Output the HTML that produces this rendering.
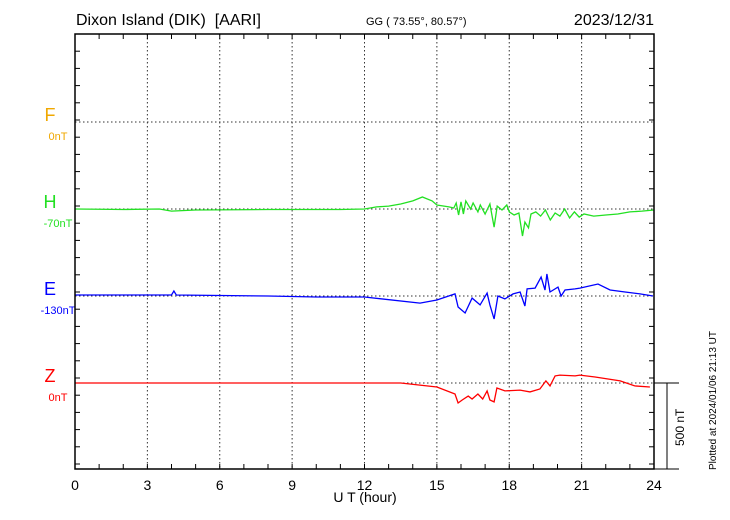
<!DOCTYPE html>
<html><head><meta charset="utf-8"><style>
html,body{margin:0;padding:0;background:#fff;}
svg{display:block;font-family:"Liberation Sans",sans-serif;}
</style></head><body>
<svg id="chart" width="730" height="520" viewBox="0 0 730 520" xmlns="http://www.w3.org/2000/svg">
<text x="76" y="25" font-size="16">Dixon Island (DIK)&#160; [AARI]</text>
<text x="366" y="25" font-size="11">GG ( 73.55°,  80.57°)</text>
<text x="654" y="25" font-size="16" text-anchor="end">2023/12/31</text>
<text x="365" y="502" font-size="14" text-anchor="middle">U T (hour)</text>
<text x="0" y="0" font-size="10" transform="translate(716,470) rotate(-90)">Plotted at 2024/01/06 21:13 UT</text>
<text x="0" y="0" font-size="12" transform="translate(684,446) rotate(-90)">500 nT</text>
<g id="grid"></g><g id="series"></g><g id="axes"></g>
</svg>
<script>
const hours=[0,3,6,9,12,15,18,21,24];
const hT=[0,2,3.5,4,5,8,11,12,12.5,13,13.5,14,14.4,14.8,15,15.3,15.5,15.7,15.8,15.9,16.0,16.1,16.2,16.4,16.5,16.7,16.8,17.0,17.2,17.37,17.5,17.7,17.9,18.0,18.2,18.4,18.55,18.65,18.8,18.9,19.1,19.3,19.5,19.7,19.9,20.1,20.3,20.5,20.7,20.9,21.1,21.5,22,22.5,23,23.5,24];
const hV=[0,-3,0,-12,-6,-3,-3,0,12,17,29,47,70,47,23,17,12,6,35,-35,41,-29,47,0,35,-17,23,-29,29,-105,17,-6,23,-17,-35,-23,-157,-76,-110,-29,-17,-41,-6,-64,-23,-41,0,-52,-17,-47,-29,-41,-35,-29,-17,-12,-6];
const eT=[0,4.0,4.1,4.2,8,10,12,14.3,15,15.75,15.88,16.17,16.46,16.79,17.08,17.2,17.37,17.53,17.82,18.16,18.45,18.65,18.74,19.07,19.32,19.48,19.56,19.69,20.02,20.15,20.31,20.73,20.93,21.68,22.18,22.8,23.42,23.96];
const eV=[6,6,29,6,0,-6,-6,-41,-23,12,-64,-99,-12,-52,17,-52,-134,0,-17,12,23,-58,41,46,110,35,128,23,52,0,35,41,46,70,35,23,12,0];
const zT=[0,12,13.5,15,15.75,15.88,16.05,16.3,16.46,16.7,16.9,17.08,17.2,17.37,17.49,17.82,18.45,18.86,19.27,19.52,19.69,19.9,20.1,20.73,20.93,21.56,22.6,23.2,23.83];
const zV=[0,0,0,-23,-64,-116,-99,-76,-93,-64,-93,-46,-99,-110,-29,-46,-41,-52,-35,12,-17,41,46,41,46,35,12,-17,-23];
const comps=["F","H","E","Z"];
const baseLabels=["0nT","-70nT","-130nT","0nT"];
const colors=["#f0a800","#22e022","#0000ff","#ff0000"];
const X0=75,X1=654,Y0=34,Y1=469;
const bases=[122,209,296,383];
const pxPerNT=86/500;
const xs=t=>X0+(X1-X0)*t/24;
const ys=(i,v)=>bases[i]-v*pxPerNT;
const NS="http://www.w3.org/2000/svg";
function mk(tag,attrs,parent){const e=document.createElementNS(NS,tag);for(const k in attrs)e.setAttribute(k,attrs[k]);parent.appendChild(e);return e;}
const grid=document.getElementById('grid'),series=document.getElementById('series'),axes=document.getElementById('axes');
hours.forEach(h=>{if(h>0&&h<24){const l=mk('line',{x1:xs(h),x2:xs(h),y1:Y0,y2:Y1,stroke:'#333','stroke-width':1,'stroke-dasharray':'1.5,2.5'},grid);

}
const t=mk('text',{x:xs(h),y:490,'font-size':14,'text-anchor':'middle'},axes);t.textContent=h;

});
for(let h=1;h<24;h++){mk('line',{x1:xs(h),x2:xs(h),y1:Y1,y2:Y1-5,stroke:'#000'},axes);mk('line',{x1:xs(h),x2:xs(h),y1:Y0,y2:Y0+5,stroke:'#000'},axes);}
for(let y=Y0;y<=Y1;y+=86/5){mk('line',{x1:X0,x2:X0+5,y1:y,y2:y,stroke:'#000'},axes);mk('line',{x1:X1,x2:X1-5,y1:y,y2:y,stroke:'#000'},axes);}
comps.forEach((c,i)=>{
const g=mk('line',{x1:X0,x2:X1,y1:bases[i],y2:bases[i],stroke:'#333','stroke-dasharray':'1.5,2.5'},grid);


const t=mk('text',{x:50,y:bases[i]-1,'font-size':18,'text-anchor':'middle',fill:colors[i]},axes);t.textContent=c;


const b=mk('text',{x:58,y:bases[i]+18,'font-size':11,'text-anchor':'middle',fill:colors[i]},axes);b.textContent=baseLabels[i];

});
[[hT,hV,1,'h-series'],[eT,eV,2,'e-series'],[zT,zV,3,'z-series']].forEach(([T,V,i,n])=>{
const p=mk('polyline',{points:T.map((t,k)=>xs(t).toFixed(1)+','+ys(i,V[k]).toFixed(1)).join(' '),fill:'none',stroke:colors[i],'stroke-width':1.3},series);

});
const fr=mk('rect',{x:X0,y:Y0,width:X1-X0,height:Y1-Y0,fill:'none',stroke:'#000','stroke-width':1.5},axes);


mk('line',{x1:X1,x2:679,y1:383,y2:383,stroke:'#000'},axes);
mk('line',{x1:X1,x2:679,y1:469,y2:469,stroke:'#000'},axes);
const sb=mk('line',{x1:667,x2:667,y1:383,y2:469,stroke:'#000'},axes);


</script>
</body></html>
